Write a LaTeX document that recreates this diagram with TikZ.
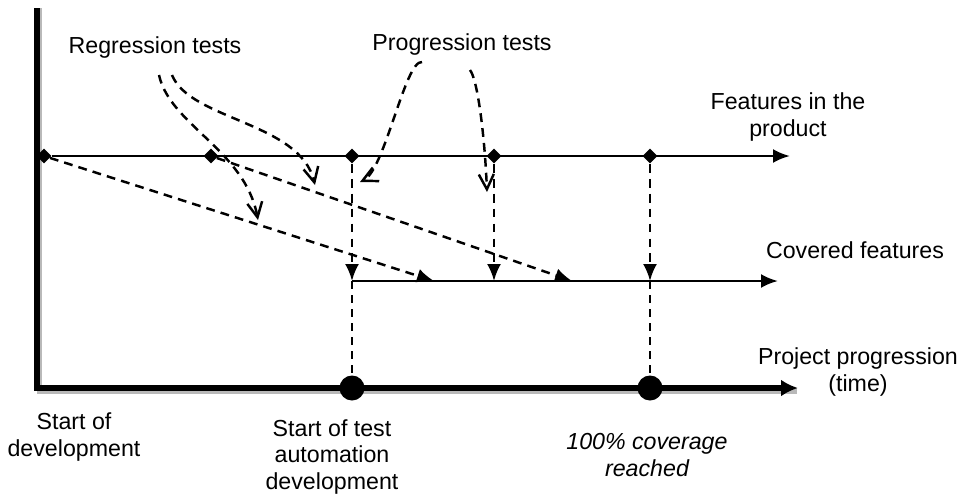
\documentclass[tikz,border=0pt]{standalone}
\usepackage{fontspec}
\setmainfont{Liberation Sans}
\usetikzlibrary{arrows.meta,shapes.geometric}

\tikzset{
  feat/.style={diamond,fill=black,inner sep=0pt,minimum size=0.3cm},
  milestone/.style={circle,fill=black,inner sep=0pt,minimum size=0.5cm},
  lbl/.style={align=center,font=\fontsize{13.2}{15}\selectfont},
  dsh/.style={line width=1.4pt,dash pattern=on 5pt off 3.5pt},
  solidarrow/.style={-{Latex[length=0.34cm,width=0.28cm]}},
  openarrow/.style={-{Straight Barb[length=0.3cm,width=0.3cm,line width=1.4pt]}}
}

\begin{document}
\begin{tikzpicture}[x=0.02cm,y=-0.02cm]
\useasboundingbox (0,0) rectangle (967,494);

\coordinate (top) at (37,8);
\coordinate (orig) at (37,388);
\coordinate (tend) at (798,388);
\coordinate (fend) at (790,156);
\coordinate (cend) at (778,281);

\draw[line width=3.4pt,gray!55] (39.5,8) -- (39.5,391) -- (797,391);
\draw[line width=3.4pt,-{Latex[length=0.34cm,width=0.34cm]}] (top) -- (orig) -- (tend);

\node[feat] (f1) at (44,156) {};
\node[feat] (f2) at (211,156) {};
\node[feat] (f3) at (352,156) {};
\node[feat] (f4) at (494,156) {};
\node[feat] (f5) at (650,156) {};
\coordinate (c1) at (352,281);
\coordinate (c2) at (494,281);
\coordinate (c3) at (650,281);
\coordinate (r1) at (434,281);
\coordinate (r2) at (572,281);
\node[milestone] (m1) at (352,388) {};
\node[milestone] (m2) at (650,388) {};

\draw[line width=1.5pt,solidarrow] (f1) -- (fend);
\draw[line width=1.5pt,solidarrow] (c1) -- (cend);

\draw[dsh,solidarrow] (f1) -- (r1);
\draw[dsh,solidarrow] (f2) -- (r2);
\draw[dsh,solidarrow] (f3) -- (c1);
\draw[dsh,solidarrow] (f4) -- (c2);
\draw[dsh,solidarrow] (f5) -- (c3);
\draw[line width=1pt,dash pattern=on 4.5pt off 3.5pt] (c1) -- (m1);
\draw[line width=1pt,dash pattern=on 4.5pt off 3.5pt] (c3) -- (m2);

\node[lbl] (reg) at (155,48) {Regression tests};
\node[lbl] (prog) at (462,45) {Progression tests};
\coordinate (reg1) at (159,75);
\coordinate (reg2) at (172,75);
\coordinate (prog1) at (422,62);
\coordinate (prog2) at (470,70);
\draw[dsh,openarrow] (reg1) .. controls (170,125) and (245,150) .. (258,220);
\draw[dsh,openarrow] (reg2) .. controls (190,120) and (300,122) .. (315,185);
\draw[dsh,openarrow] (prog1) .. controls (405,60) and (385,170) .. (360,182);
\draw[dsh,openarrow] (prog2) .. controls (478,80) and (485,140) .. (487,192);

\node[lbl] (featl) at (788,117) {Features in the\\product};
\node[lbl] (covl) at (855,250) {Covered features};
\node[lbl] (timel) at (858,372) {Project progression\\(time)};
\node[lbl] (startl) at (74,437) {Start of\\development};
\node[lbl] (autol) at (332,457) {Start of test\\automation\\development};
\node[lbl,font=\fontsize{13.2}{15}\selectfont\itshape] (fulll) at (647,455) {100\% coverage\\reached};
\end{tikzpicture}
\end{document}
